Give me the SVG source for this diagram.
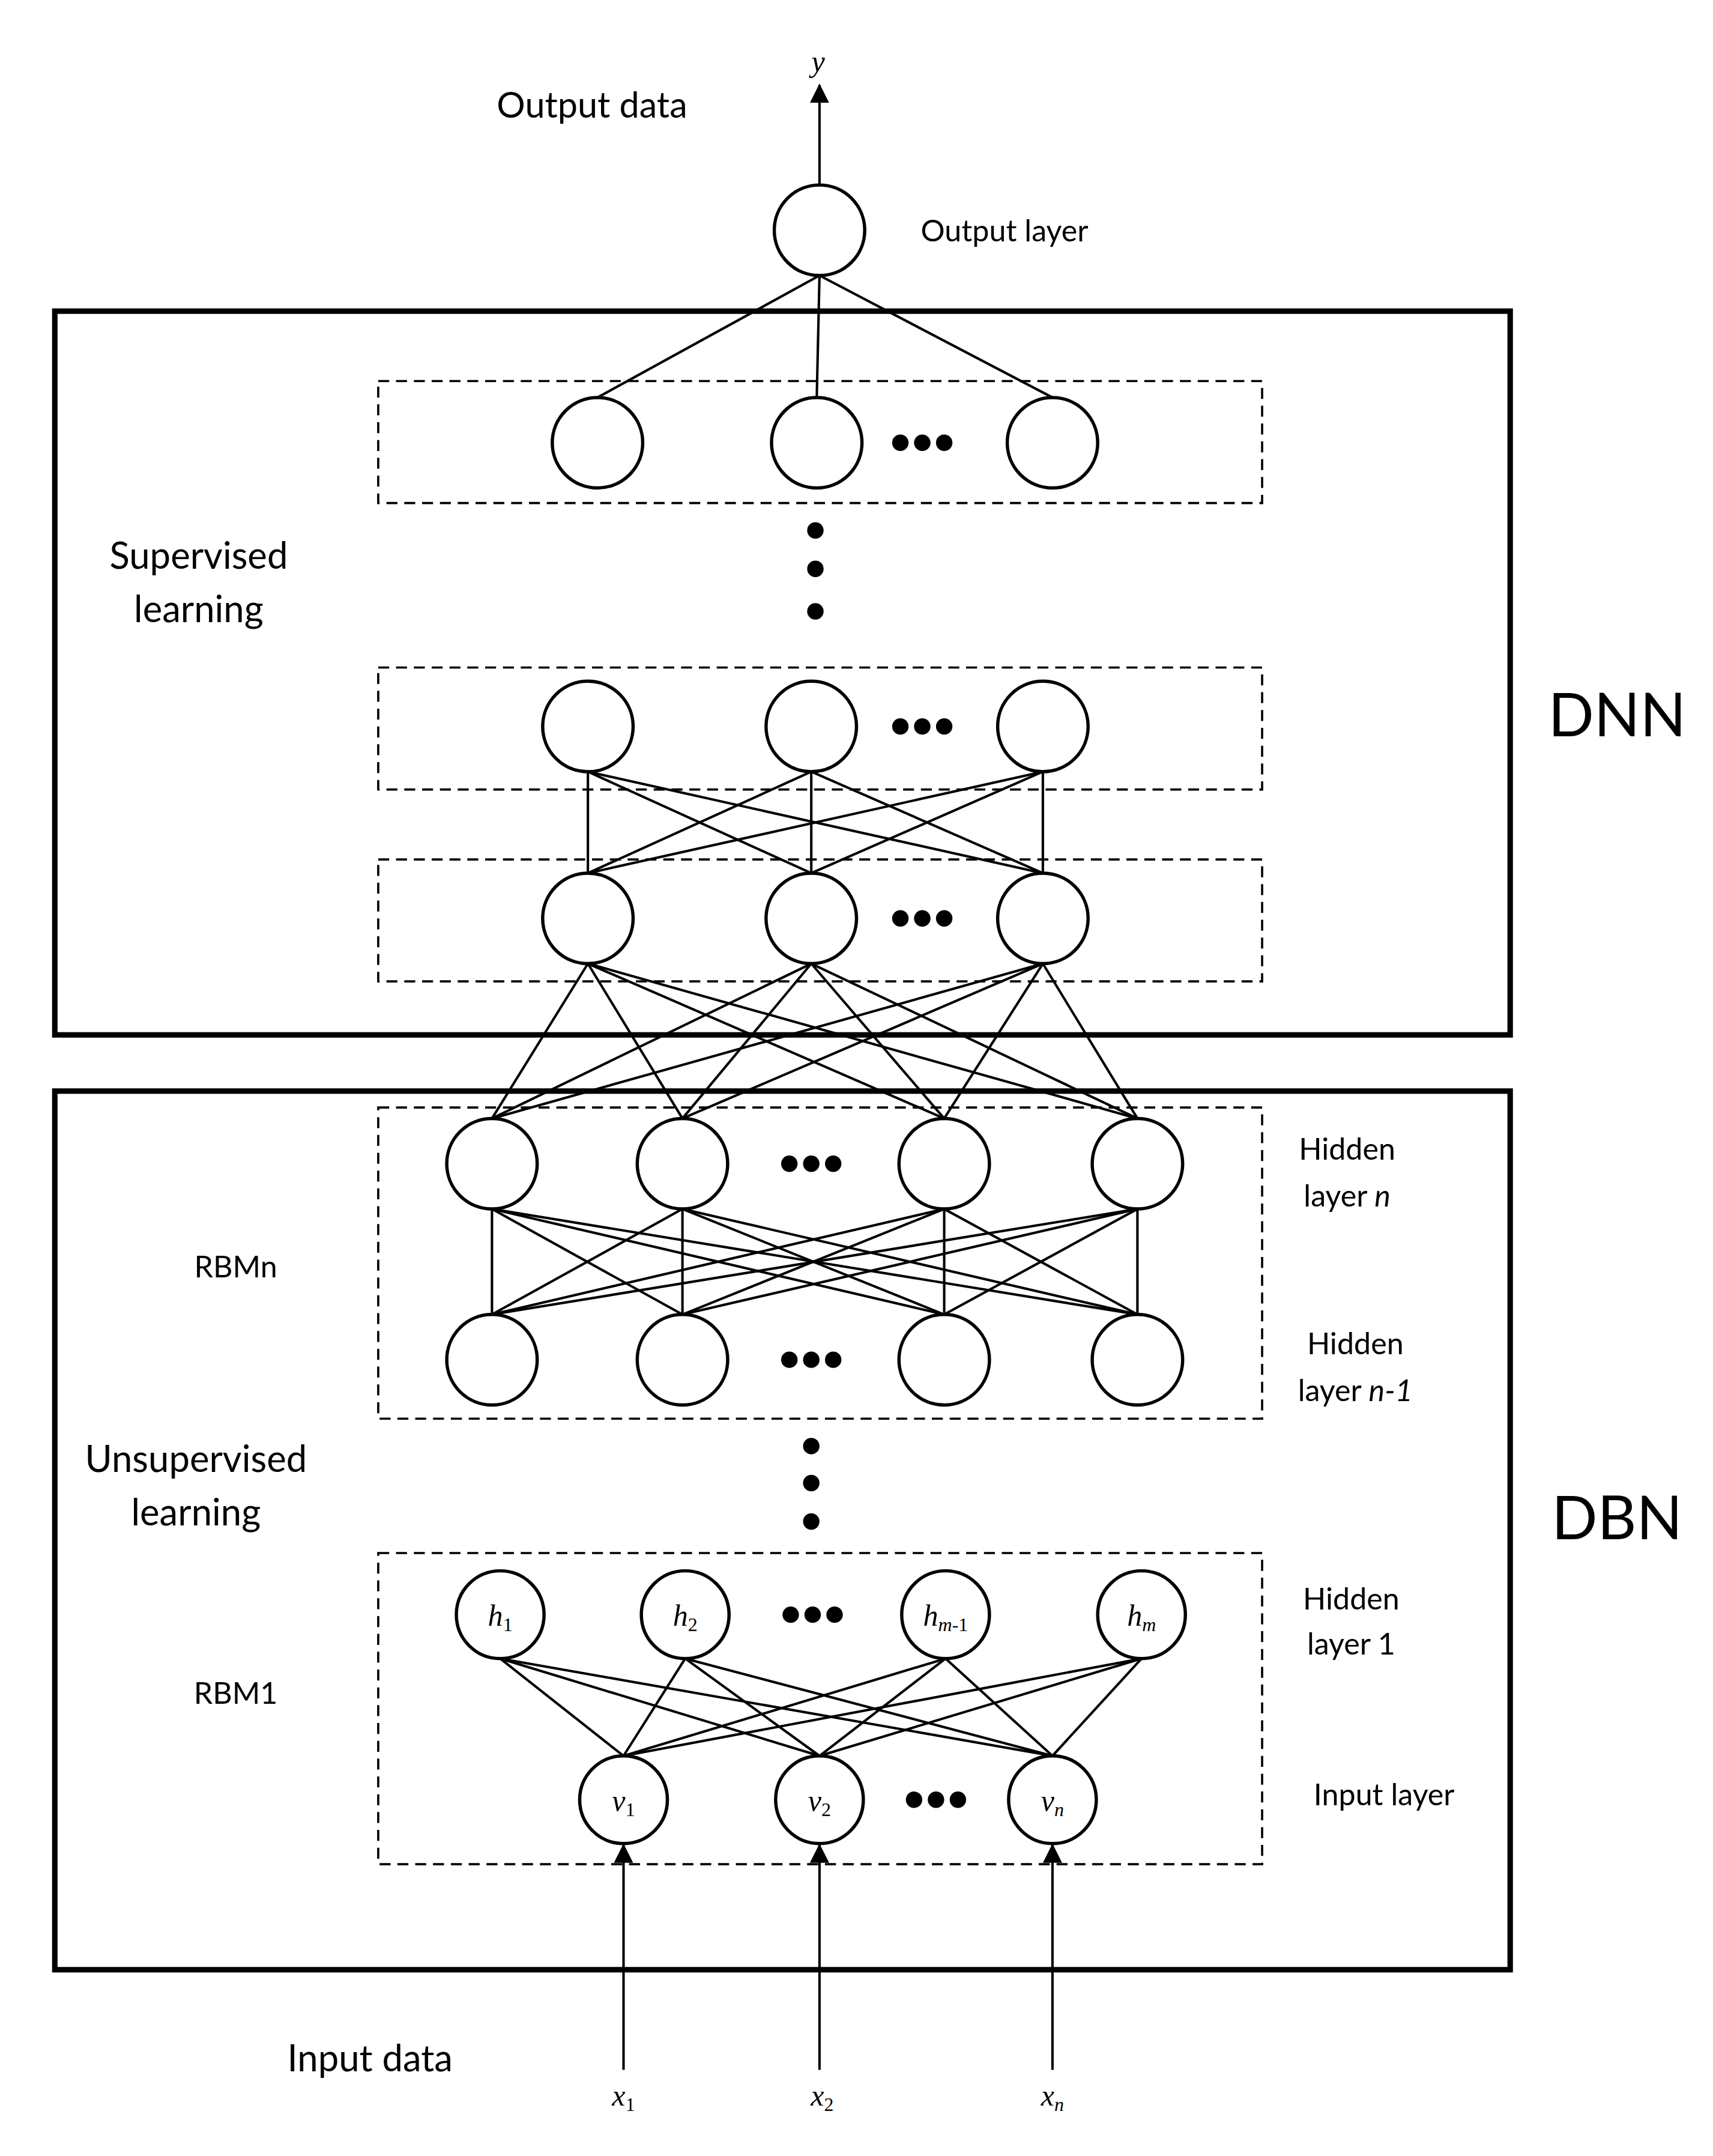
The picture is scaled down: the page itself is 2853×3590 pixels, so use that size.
<svg xmlns="http://www.w3.org/2000/svg" width="2853" height="3590" viewBox="0 0 2853 3590">
<style>
.n{fill:#fff;stroke:#000;stroke-width:2.4}
.d{fill:none;stroke:#000;stroke-width:1.6;stroke-dasharray:8 5}
.b{fill:none;stroke:#000;stroke-width:4}
.e line{stroke:#000;stroke-width:1.8}
.t{font-family:Lato,"Open Sans",sans-serif;fill:#000;text-anchor:middle}
.s{font-family:"Liberation Serif",serif;font-style:italic;fill:#000;text-anchor:middle;font-size:22px}
.sub{font-size:14px}
</style>
<defs><marker id="a" markerWidth="10" markerHeight="10" refX="9" refY="5" orient="auto" markerUnits="userSpaceOnUse"><path d="M0,0 L10,5 L0,10 z" fill="#000"/></marker>
<marker id="a2" markerWidth="14" markerHeight="16" refX="13" refY="8" orient="auto" markerUnits="userSpaceOnUse"><path d="M0,1 L14,8 L0,15 z" fill="#000"/></marker></defs>
<rect width="2853" height="3590" fill="#fff"/>
<g transform="scale(2.2824)">
<g id="boxes">
<rect class="b" x="40" y="227" width="1062" height="528"/>
<rect class="b" x="40" y="796" width="1062" height="641"/>
<rect class="d" x="276" y="278" width="645" height="89"/>
<rect class="d" x="276" y="487" width="645" height="89"/>
<rect class="d" x="276" y="627" width="645" height="89"/>
<rect class="d" x="276" y="808" width="645" height="227"/>
<rect class="d" x="276" y="1133" width="645" height="227"/>
</g>
<g id="connectors" class="e">
<line x1="598" y1="201" x2="436" y2="290"/><line x1="598" y1="201" x2="596" y2="290"/><line x1="598" y1="201" x2="768" y2="290"/>
<line x1="429" y1="563" x2="429" y2="637"/><line x1="429" y1="563" x2="592" y2="637"/><line x1="429" y1="563" x2="761" y2="637"/>
<line x1="592" y1="563" x2="429" y2="637"/><line x1="592" y1="563" x2="592" y2="637"/><line x1="592" y1="563" x2="761" y2="637"/>
<line x1="761" y1="563" x2="429" y2="637"/><line x1="761" y1="563" x2="592" y2="637"/><line x1="761" y1="563" x2="761" y2="637"/>
<line x1="429" y1="703" x2="359" y2="816"/><line x1="429" y1="703" x2="498" y2="816"/><line x1="429" y1="703" x2="689" y2="816"/><line x1="429" y1="703" x2="830" y2="816"/>
<line x1="592" y1="703" x2="359" y2="816"/><line x1="592" y1="703" x2="498" y2="816"/><line x1="592" y1="703" x2="689" y2="816"/><line x1="592" y1="703" x2="830" y2="816"/>
<line x1="761" y1="703" x2="359" y2="816"/><line x1="761" y1="703" x2="498" y2="816"/><line x1="761" y1="703" x2="689" y2="816"/><line x1="761" y1="703" x2="830" y2="816"/>
<line x1="359" y1="882" x2="359" y2="959"/><line x1="359" y1="882" x2="498" y2="959"/><line x1="359" y1="882" x2="689" y2="959"/><line x1="359" y1="882" x2="830" y2="959"/>
<line x1="498" y1="882" x2="359" y2="959"/><line x1="498" y1="882" x2="498" y2="959"/><line x1="498" y1="882" x2="689" y2="959"/><line x1="498" y1="882" x2="830" y2="959"/>
<line x1="689" y1="882" x2="359" y2="959"/><line x1="689" y1="882" x2="498" y2="959"/><line x1="689" y1="882" x2="689" y2="959"/><line x1="689" y1="882" x2="830" y2="959"/>
<line x1="830" y1="882" x2="359" y2="959"/><line x1="830" y1="882" x2="498" y2="959"/><line x1="830" y1="882" x2="689" y2="959"/><line x1="830" y1="882" x2="830" y2="959"/>
<line x1="365" y1="1210" x2="455" y2="1281"/><line x1="365" y1="1210" x2="598" y2="1281"/><line x1="365" y1="1210" x2="768" y2="1281"/>
<line x1="500" y1="1210" x2="455" y2="1281"/><line x1="500" y1="1210" x2="598" y2="1281"/><line x1="500" y1="1210" x2="768" y2="1281"/>
<line x1="690" y1="1210" x2="455" y2="1281"/><line x1="690" y1="1210" x2="598" y2="1281"/><line x1="690" y1="1210" x2="768" y2="1281"/>
<line x1="833" y1="1210" x2="455" y2="1281"/><line x1="833" y1="1210" x2="598" y2="1281"/><line x1="833" y1="1210" x2="768" y2="1281"/>
<line x1="598" y1="135" x2="598" y2="62" marker-end="url(#a2)"/>
<line x1="455" y1="1510" x2="455" y2="1346" marker-end="url(#a2)"/>
<line x1="598" y1="1510" x2="598" y2="1346" marker-end="url(#a2)"/>
<line x1="768" y1="1510" x2="768" y2="1346" marker-end="url(#a2)"/>
</g>
<g id="nodes">
<circle class="n" cx="598" cy="168" r="33"/>
<circle class="n" cx="436" cy="323" r="33"/><circle class="n" cx="596" cy="323" r="33"/><circle class="n" cx="768" cy="323" r="33"/>
<circle class="n" cx="429" cy="530" r="33"/><circle class="n" cx="592" cy="530" r="33"/><circle class="n" cx="761" cy="530" r="33"/>
<circle class="n" cx="429" cy="670" r="33"/><circle class="n" cx="592" cy="670" r="33"/><circle class="n" cx="761" cy="670" r="33"/>
<circle class="n" cx="359" cy="849" r="33"/><circle class="n" cx="498" cy="849" r="33"/><circle class="n" cx="689" cy="849" r="33"/><circle class="n" cx="830" cy="849" r="33"/>
<circle class="n" cx="359" cy="992" r="33"/><circle class="n" cx="498" cy="992" r="33"/><circle class="n" cx="689" cy="992" r="33"/><circle class="n" cx="830" cy="992" r="33"/>
<circle class="n" cx="365" cy="1178" r="32"/><circle class="n" cx="500" cy="1178" r="32"/><circle class="n" cx="690" cy="1178" r="32"/><circle class="n" cx="833" cy="1178" r="32"/>
<circle class="n" cx="455" cy="1313" r="32"/><circle class="n" cx="598" cy="1313" r="32"/><circle class="n" cx="768" cy="1313" r="32"/>
</g>
<g id="dots" fill="#000">
<circle cx="657" cy="323" r="6"/><circle cx="673" cy="323" r="6"/><circle cx="689" cy="323" r="6"/>
<circle cx="657" cy="530" r="6"/><circle cx="673" cy="530" r="6"/><circle cx="689" cy="530" r="6"/>
<circle cx="657" cy="670" r="6"/><circle cx="673" cy="670" r="6"/><circle cx="689" cy="670" r="6"/>
<circle cx="576" cy="849" r="6"/><circle cx="592" cy="849" r="6"/><circle cx="608" cy="849" r="6"/>
<circle cx="576" cy="992" r="6"/><circle cx="592" cy="992" r="6"/><circle cx="608" cy="992" r="6"/>
<circle cx="577" cy="1178" r="6"/><circle cx="593" cy="1178" r="6"/><circle cx="609" cy="1178" r="6"/>
<circle cx="667" cy="1313" r="6"/><circle cx="683" cy="1313" r="6"/><circle cx="699" cy="1313" r="6"/>
<circle cx="595" cy="387" r="6"/><circle cx="595" cy="415" r="6"/><circle cx="595" cy="446" r="6"/>
<circle cx="592" cy="1055" r="6"/><circle cx="592" cy="1082" r="6"/><circle cx="592" cy="1110" r="6"/>
</g>
<g id="labels">
<text class="s" x="597" y="52" font-size="24">y</text>
<text class="t" x="432" y="86" font-size="26">Output data</text>
<text class="t" x="733" y="176" font-size="22">Output layer</text>
<text class="t" x="145" y="415" font-size="27">Supervised</text>
<text class="t" x="145" y="454" font-size="27">learning</text>
<text class="t" x="143" y="1074" font-size="27">Unsupervised</text>
<text class="t" x="143" y="1113" font-size="27">learning</text>
<text class="t" x="172" y="932" font-size="22">RBMn</text>
<text class="t" x="172" y="1243" font-size="22">RBM1</text>
<text class="t" x="983" y="846" font-size="22">Hidden</text>
<text class="t" x="983" y="880" font-size="22">layer <tspan font-style="italic">n</tspan></text>
<text class="t" x="989" y="988" font-size="22">Hidden</text>
<text class="t" x="989" y="1022" font-size="22">layer <tspan font-style="italic">n-1</tspan></text>
<text class="t" x="986" y="1174" font-size="22">Hidden</text>
<text class="t" x="986" y="1207" font-size="22">layer 1</text>
<text class="t" x="1010" y="1317" font-size="22">Input layer</text>
<text class="t" x="270" y="1511" font-size="27">Input data</text>
<text class="t" x="1180" y="537" font-size="44">DNN</text>
<text class="t" x="1180" y="1123" font-size="44">DBN</text>
<text class="s" x="365" y="1186">h<tspan class="sub" dy="4" font-style="normal">1</tspan></text>
<text class="s" x="500" y="1186">h<tspan class="sub" dy="4" font-style="normal">2</tspan></text>
<text class="s" x="690" y="1186">h<tspan class="sub" dy="4">m</tspan><tspan class="sub" font-style="normal">-1</tspan></text>
<text class="s" x="833" y="1186">h<tspan class="sub" dy="4">m</tspan></text>
<text class="s" x="455" y="1321">v<tspan class="sub" dy="4" font-style="normal">1</tspan></text>
<text class="s" x="598" y="1321">v<tspan class="sub" dy="4" font-style="normal">2</tspan></text>
<text class="s" x="768" y="1321">v<tspan class="sub" dy="4">n</tspan></text>
<text class="s" x="455" y="1536">x<tspan class="sub" dy="4" font-style="normal">1</tspan></text>
<text class="s" x="600" y="1536">x<tspan class="sub" dy="4" font-style="normal">2</tspan></text>
<text class="s" x="768" y="1536">x<tspan class="sub" dy="4">n</tspan></text>
</g>
</g>
</svg>
